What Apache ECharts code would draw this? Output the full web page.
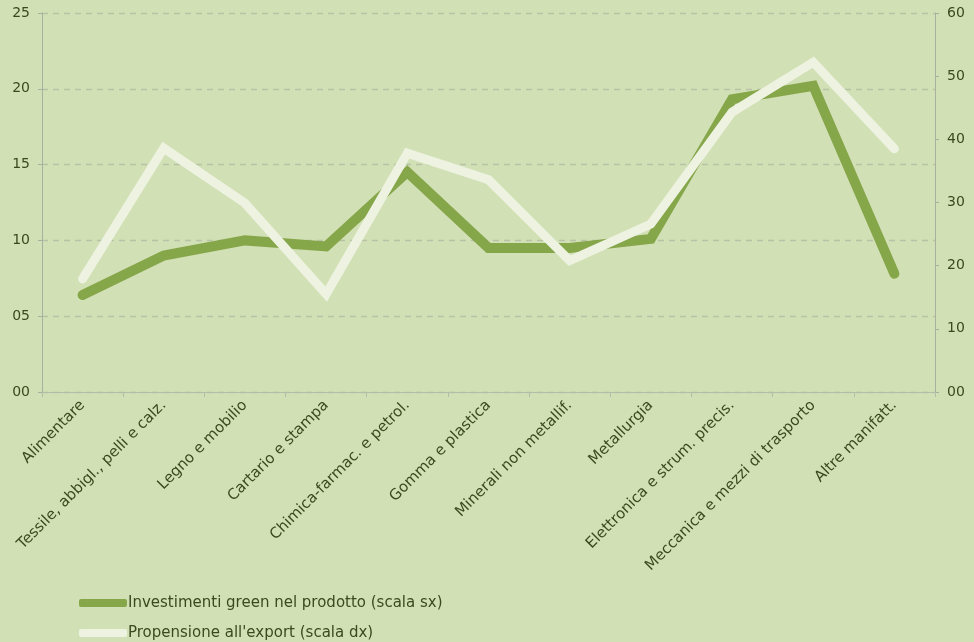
<!DOCTYPE html>
<html>
<head>
<meta charset="utf-8">
<script src="https://cdn.jsdelivr.net/npm/echarts@6/dist/echarts.min.js"></script>
<style>
  html, body { margin: 0; padding: 0; background: #d2e0b5; }
  #chart { width: 974px; height: 642px; }
</style>
</head>
<body>
<div id="chart"></div>
<script>
// categorie (settori)
const categories = [
  "Alimentare",
  "Tessile, abbigl., pelli e calz.",
  "Legno e mobilio",
  "Cartario e stampa",
  "Chimica-farmac. e petrol.",
  "Gomma e plastica",
  "Minerali non metallif.",
  "Metallurgia",
  "Elettronica e strum. precis.",
  "Meccanica e mezzi di trasporto",
  "Altre manifatt."
];
// scala sx
const investimentiGreen = [6.4, 9.0, 10.0, 9.6, 14.5, 9.5, 9.5, 10.1, 19.3, 20.2, 7.8];
// scala dx
const propensioneExport = [17.9, 38.6, 29.9, 15.5, 37.8, 33.6, 20.8, 26.6, 44.3, 52.2, 38.5];

const leftTicks = { min: 0, max: 25, interval: 5 };
const rightTicks = { min: 0, max: 60, interval: 10 };

const textColor = "#3b4a1e";
const fontFamily = "DejaVu Sans";
const pad2 = (v) => (v < 10 ? "0" + v : "" + v);

const chart = echarts.init(document.getElementById("chart"));
chart.setOption({
  backgroundColor: "#d2e0b5",
  animation: false,
  grid: { left: 42, right: 39, top: 13, bottom: 250, containLabel: false },
  legend: {
    orient: "vertical",
    left: 74,
    top: 590,
    height: 50,
    itemWidth: 48,
    itemHeight: 8,
    itemGap: 14,
    textStyle: { color: textColor, fontSize: 15, lineHeight: 16, fontFamily: fontFamily, padding: [0, 0, 0, -4] },
    data: [
      { name: "Investimenti green nel prodotto (scala sx)", icon: "roundRect" },
      { name: "Propensione all'export (scala dx)", icon: "roundRect" }
    ]
  },
  xAxis: {
    type: "category",
    data: categories,
    boundaryGap: true,
    axisLine: { lineStyle: { color: "#b4bcaa", width: 1 } },
    axisTick: { show: true, lineStyle: { color: "#b4bcaa" }, length: 5 },
    axisLabel: {
      interval: 0,
      rotate: 45,
      color: textColor,
      fontSize: 15,
      fontFamily: fontFamily,
      margin: 11
    }
  },
  yAxis: [
    {
      type: "value",
      min: leftTicks.min,
      max: leftTicks.max,
      interval: leftTicks.interval,
      axisLine: { show: true, lineStyle: { color: "#a9b09f" } },
      axisTick: { show: true, length: 4, lineStyle: { color: "#a9b09f" } },
      axisLabel: { color: textColor, fontSize: 14, fontFamily: fontFamily, margin: 12, formatter: pad2 },
      splitLine: { show: true, lineStyle: { color: "#b8c2a6", type: [6, 5], width: 1.3 } }
    },
    {
      type: "value",
      min: rightTicks.min,
      max: rightTicks.max,
      interval: rightTicks.interval,
      position: "right",
      axisLine: { show: true, lineStyle: { color: "#a9b09f" } },
      axisTick: { show: true, length: 4, lineStyle: { color: "#a9b09f" } },
      axisLabel: { color: textColor, fontSize: 14, fontFamily: fontFamily, margin: 12, formatter: pad2 },
      splitLine: { show: false }
    }
  ],
  series: [
    {
      name: "Investimenti green nel prodotto (scala sx)",
      type: "line",
      yAxisIndex: 0,
      data: investimentiGreen,
      symbol: "none",
      color: "#86a64a",
      lineStyle: { color: "#86a64a", width: 10, cap: "round", join: "miter" },
      z: 2
    },
    {
      name: "Propensione all'export (scala dx)",
      type: "line",
      yAxisIndex: 1,
      data: propensioneExport,
      symbol: "none",
      color: "#edf2e1",
      lineStyle: { color: "#edf2e1", width: 9, cap: "round", join: "miter" },
      z: 3
    }
  ]
});
</script>
</body>
</html>
